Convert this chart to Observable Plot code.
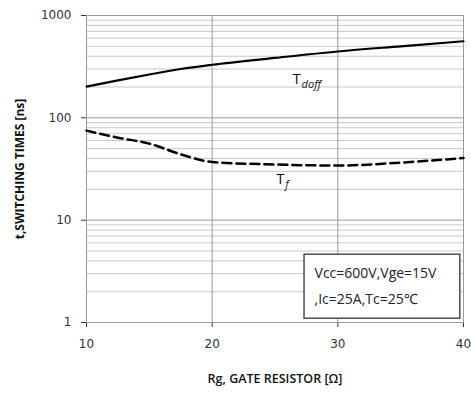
<!DOCTYPE html>
<html>
<head>
<meta charset="utf-8">
<script src="https://cdn.jsdelivr.net/npm/d3@7"></script>
<script src="https://cdn.jsdelivr.net/npm/@observablehq/plot@0.6"></script>
<style>
  html, body { margin: 0; padding: 0; background: #fff; }
</style>
</head>
<body>
<div id="chart"></div>
<script>
const rg = [10, 12.5, 15, 17.5, 20, 25, 30, 35, 40];
const tdoff = [202, 232, 265, 300, 330, 385, 445, 500, 560];
const tfRg = [10, 12.5, 15, 17.5, 20, 25, 30, 35, 40];
const tf = [75, 64, 56, 44, 37, 35, 34.2, 36.5, 40.5];
const xTicks = [10, 20, 30, 40];
const yMajor = [1, 10, 100, 1000];
const yMinor = [2,3,4,5,6,7,8,9,20,30,40,50,60,70,80,90,200,300,400,500,600,700,800,900];
const legendLines = ["Vcc=600V,Vge=15V", ",Ic=25A,Tc=25℃"];
const legendY = [3.01, 1.67];
const labelT = [{x: 26.4, y: 212, main: "T", sub: "doff"}, {x: 25.1, y: 22.8, main: "T", sub: "f"}];
const boxX = [27.35, 39.75];
const boxY = [1.09, 4.6];

const doffData = rg.map((x, i) => ({x, y: tdoff[i]}));
const fData = tfRg.map((x, i) => ({x, y: tf[i]}));

const chart = Plot.plot({
  width: 471,
  height: 394,
  marginLeft: 86,
  marginRight: 8,
  marginTop: 15,
  marginBottom: 72,
  style: {fontFamily: "DejaVu Sans", fontSize: "12px", color: "#333", background: "#fff"},
  x: {domain: [10, 40], ticks: xTicks, tickSize: 5, tickPadding: 12, label: null},
  y: {type: "log", domain: [1, 1000], ticks: yMajor, tickFormat: d => String(d), tickSize: 5, tickPadding: 10, label: null},
  marks: [
    Plot.ruleY(yMinor, {stroke: "#c8c8c8", strokeWidth: 1}),
    Plot.ruleY(yMajor, {stroke: "#999", strokeWidth: 1}),
    Plot.ruleX(xTicks, {stroke: "#999", strokeWidth: 1}),
    Plot.frame({stroke: "#999"}),
    Plot.line(doffData, {x: "x", y: "y", stroke: "#000", strokeWidth: 2.2, curve: "monotone-x"}),
    Plot.line(fData, {x: "x", y: "y", stroke: "#000", strokeWidth: 2.5, strokeDasharray: "9,5", curve: "monotone-x"}),
    Plot.text(labelT, {x: "x", y: "y", text: "main", textAnchor: "start", lineAnchor: "bottom", fontSize: 15, fill: "#111", fontFamily: "Open Sans"}),
    Plot.text(labelT, {x: "x", y: "y", text: "sub", textAnchor: "start", lineAnchor: "bottom", dx: 9, dy: 4, fontSize: 11, fontStyle: "italic", fill: "#123", fontFamily: "Open Sans"}),
    Plot.rect([{x1: boxX[0], x2: boxX[1], y1: boxY[0], y2: boxY[1]}], {x1: "x1", x2: "x2", y1: "y1", y2: "y2", fill: "#fff", stroke: "#333", strokeWidth: 1.3}),
    Plot.text(legendLines, {x: boxX[0], y: (d, i) => legendY[i], text: d => d, textAnchor: "start", dx: 10, fontSize: 14, fill: "#223", fontFamily: "Open Sans"}),
    Plot.text(["t,SWITCHING TIMES [ns]"], {frameAnchor: "left", textAnchor: "middle", dx: -66, rotate: -90, fontWeight: "bold", fontSize: 12, fill: "#111", fontFamily: "Open Sans"}),
    Plot.text(["Rg, GATE RESISTOR [Ω]"], {frameAnchor: "bottom", dy: 60, fontSize: 12.5, fontWeight: 600, fill: "#111", fontFamily: "Open Sans"})
  ]
});
document.getElementById("chart").appendChild(chart);
</script>
</body>
</html>
